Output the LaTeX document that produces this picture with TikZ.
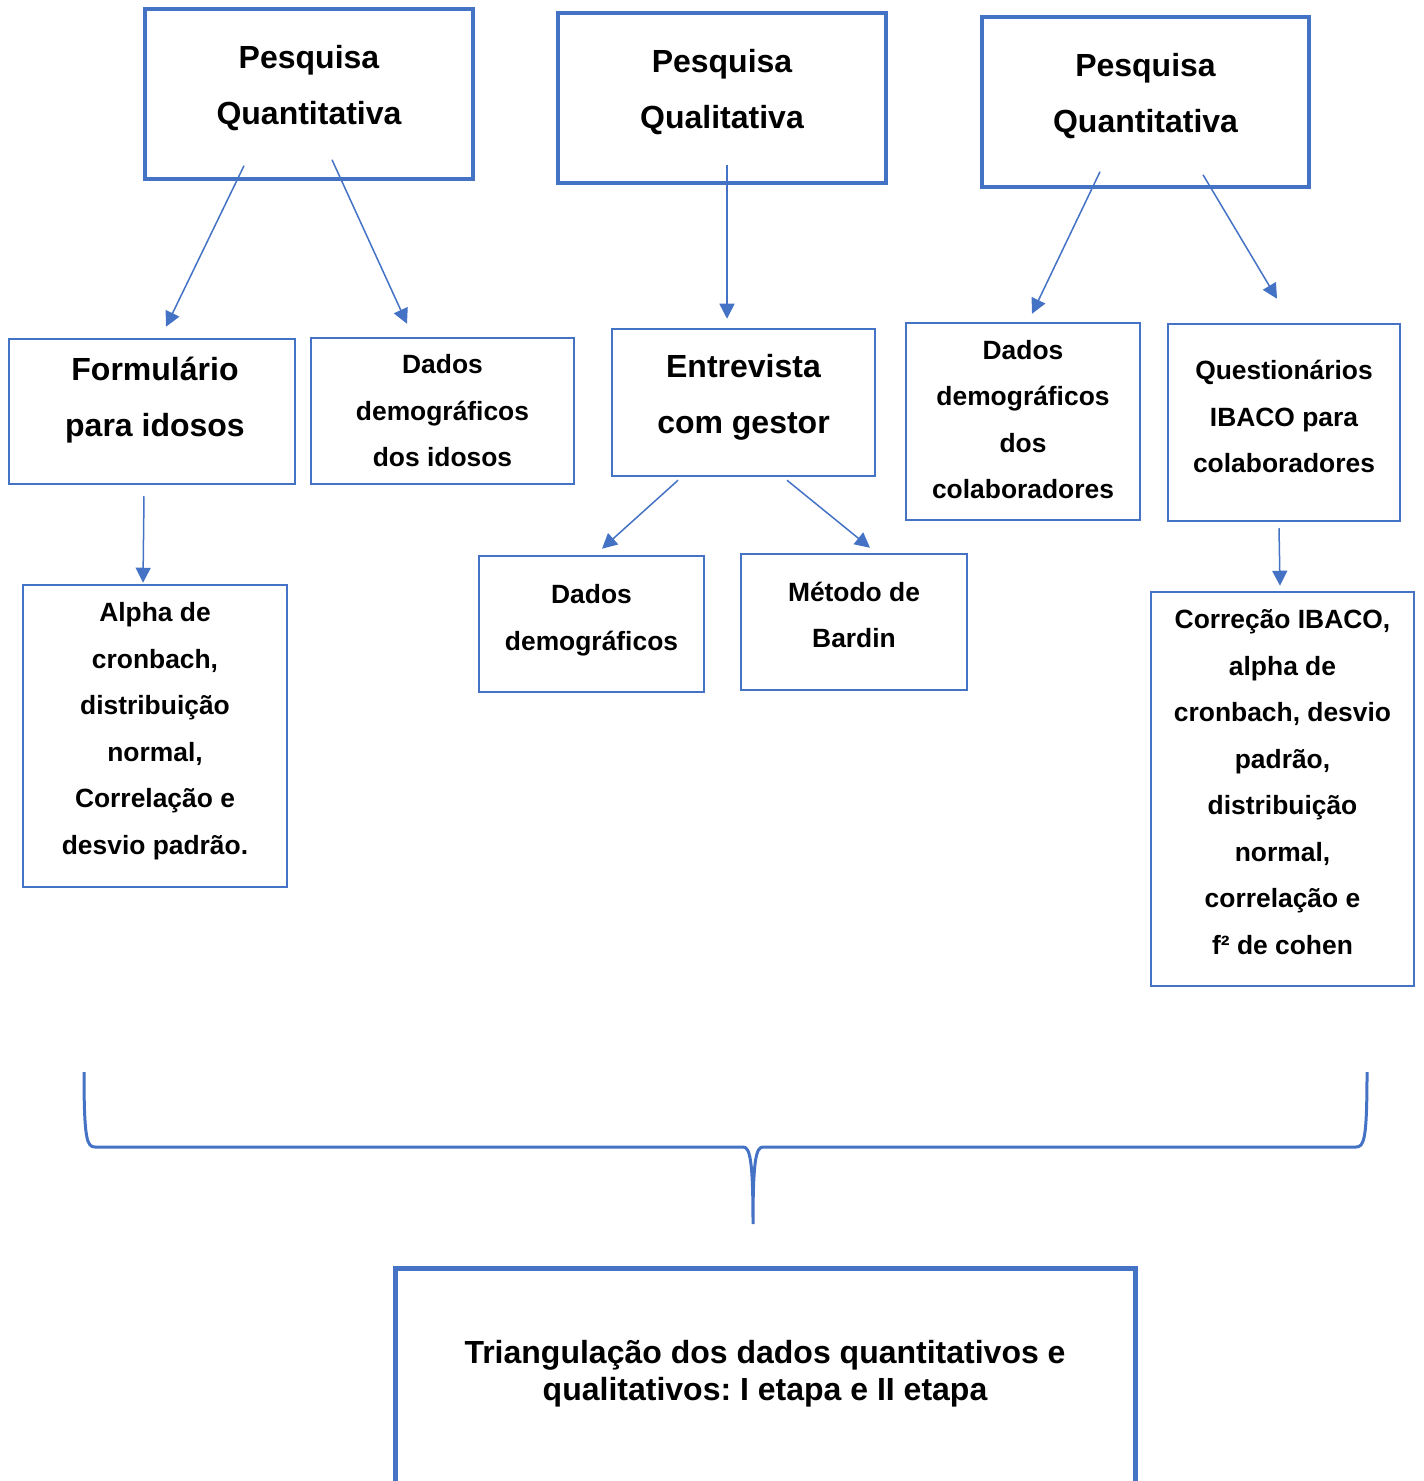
\documentclass[tikz,border=0pt]{standalone}
\usepackage{fontspec}
\setmainfont{Liberation Sans}
\usetikzlibrary{arrows.meta,calc}
\frenchspacing

\definecolor{azul}{HTML}{4472C4}

\tikzset{
  caixa/.style={draw=azul, line width=1.25pt, inner sep=0pt},
  titulo/.style={align=center, font=\fontsize{16}{28}\selectfont\bfseries},
  texto/.style={align=center, font=\fontsize{13.2}{23.25}\selectfont\bfseries},
  final/.style={align=center, font=\fontsize{16}{18.5}\selectfont\bfseries},
  seta/.style={draw=azul, line width=0.75pt, -{Triangle[length=7.5pt,width=7.5pt]}}
}

\begin{document}
\begin{tikzpicture}[x=0.5pt, y=-0.5pt]

\useasboundingbox (0,0) rectangle (1423,1481);

% Pesquisas
\node[caixa, line width=1.75pt, minimum width=164pt, minimum height=85pt,
  label={[titulo,yshift=3pt]center:{Pesquisa\\Quantitativa}}] (pq1) at (309,94) {};
\node[caixa, line width=1.75pt, minimum width=164pt, minimum height=85pt,
  label={[titulo,yshift=3pt]center:{Pesquisa\\Qualitativa}}] (pqual) at (722,98) {};
\node[caixa, line width=1.75pt, minimum width=163.5pt, minimum height=85pt,
  label={[titulo,yshift=3pt]center:{Pesquisa\\Quantitativa}}] (pq3) at (1145.5,102) {};

% Segunda linha
\node[caixa, minimum width=143pt, minimum height=72.5pt,
  label={[titulo,xshift=1.5pt,yshift=5.5pt]center:{Formulário\\para idosos}}] (form) at (152,411.5) {};
\node[caixa, minimum width=131.5pt, minimum height=73pt,
  label={[texto]center:{Dados\\demográficos\\dos idosos}}] (ddi) at (442.5,411) {};
\node[caixa, minimum width=131.5pt, minimum height=73.5pt,
  label={[titulo,yshift=2.5pt]center:{Entrevista\\com gestor}}] (entr) at (743.5,402.5) {};
\node[caixa, minimum width=117pt, minimum height=98.5pt,
  label={[texto,yshift=1pt]center:{Dados\\demográficos\\dos\\colaboradores}}] (ddc) at (1023,421.5) {};
\node[caixa, minimum width=116pt, minimum height=98.5pt,
  label={[texto,yshift=3pt]center:{Questionários\\IBACO para\\colaboradores}}] (quest) at (1284,422.5) {};

% Terceira linha
\node[caixa, minimum width=132pt, minimum height=151pt,
  label={[texto,yshift=2.5pt]center:{Alpha de\\cronbach,\\distribuição\\normal,\\Correlação e\\desvio padrão.}}] (alpha) at (155,736) {};
\node[caixa, minimum width=112.5pt, minimum height=68pt,
  label={[texto,yshift=2pt]center:{Dados\\demográficos}}] (ddem) at (591.5,624) {};
\node[caixa, minimum width=113pt, minimum height=68pt,
  label={[texto,yshift=3.5pt]center:{Método de\\Bardin}}] (bard) at (854,622) {};
\node[caixa, minimum width=131.5pt, minimum height=197pt,
  label={[texto,yshift=3.5pt]center:{Correção IBACO,\\alpha de\\cronbach, desvio\\padrão,\\distribuição\\normal,\\correlação e\\f² de cohen}}] (corr) at (1282.5,789) {};

% Triangulacao
\node[caixa, line width=2.5pt, minimum width=370pt, minimum height=116pt,
  label={[final,yshift=5.25pt]center:{Triangulação dos dados quantitativos e\\qualitativos: I etapa e II etapa}}] (tri) at (765,1384) {};

% Setas
\draw[seta] ($(pq1.south)+(-65,-15)$) -- ($(form.north)+(14,-11)$);
\draw[seta] ($(pq1.south)+(23,-21)$) -- ($(ddi.north)+(-35.5,-13)$);
\draw[seta] ($(pqual.south)+(5,-20)$) -- ($(entr.north)+(-16.5,-9)$);
\draw[seta] ($(pq3.south)+(-45.5,-17)$) -- ($(ddc.north)+(9,-8)$);
\draw[seta] ($(pq3.south)+(57.5,-14)$) -- ($(quest.north)+(-7,-24)$);
\draw[seta] ($(form.south)+(-8,11)$) -- ($(alpha.north)+(-12,-1)$);
\draw[seta] ($(entr.south)+(-65.5,3)$) -- ($(ddem.north)+(10.5,-6)$);
\draw[seta] ($(entr.south)+(43.5,3)$) -- ($(bard.north)+(16,-5)$);
\draw[seta] ($(quest.south)+(-5,6)$) -- ($(corr.north)+(-2.5,-5)$);

% Chave
\coordinate (ch-e) at (84,1072);
\coordinate (ch-m) at (753,1224);
\coordinate (ch-d) at (1367,1072);
\draw[azul, line width=1.5pt]
  (ch-e) .. controls (84,1140) and (87,1147) .. (95,1147) -- (743,1147)
  .. controls (750,1147) and (753,1160) .. (ch-m)
  .. controls (753,1160) and (756,1147) .. (763,1147) -- (1356,1147)
  .. controls (1364,1147) and (1367,1140) .. (ch-d);

\end{tikzpicture}
\end{document}
